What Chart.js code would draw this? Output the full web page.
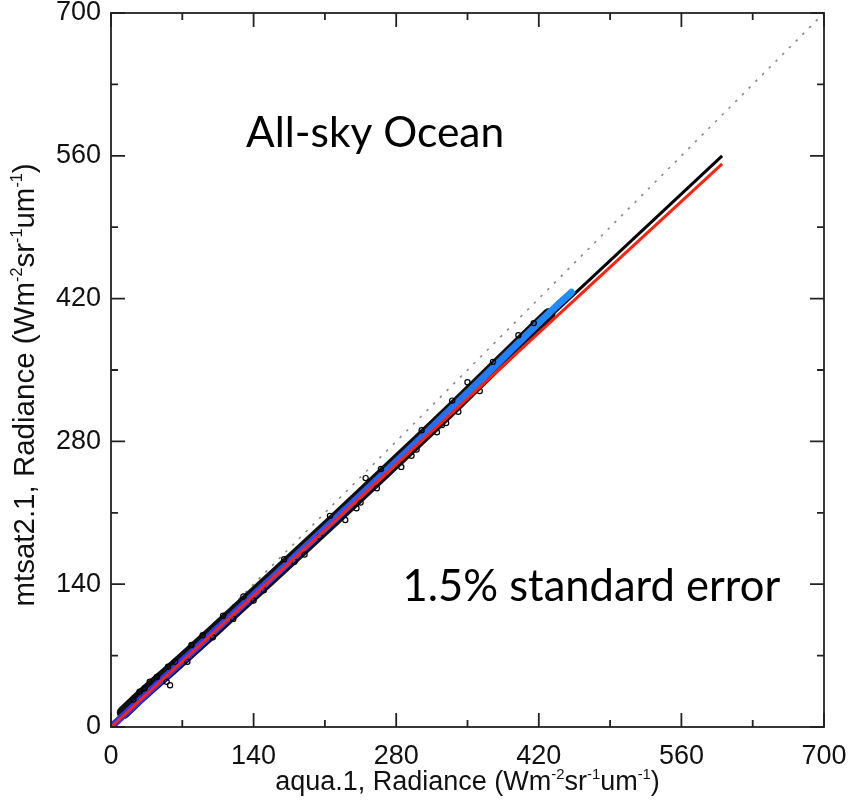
<!DOCTYPE html>
<html>
<head>
<meta charset="utf-8">
<script src="https://cdn.jsdelivr.net/npm/chart.js@4.4.0/dist/chart.umd.min.js"></script>
<style>
  html, body { margin: 0; padding: 0; background: #fff; }
</style>
</head>
<body>
<canvas id="chart" width="858" height="802"></canvas>
<script>
// axis ticks (labels on the major ones only)
const majorTicks = [0, 140, 280, 420, 560, 700];
const minorTicks = [70, 210, 350, 490, 630];

// centre of the blue band of matched pixels (aqua.1 vs mtsat2.1)
const bandAqua  = [3, 10, 20, 30, 40, 55, 70, 85, 100, 120, 140, 160, 180, 200, 220, 240, 260, 280, 300, 320, 340, 360, 380, 400, 420, 440, 452];
const bandMtsat = [2.8, 9.3, 18.5, 27.8, 37, 50.9, 64.8, 78.6, 92.5, 111, 129.5, 148, 166.6, 185.2, 203.8, 222.5, 241.3, 260.2, 279.2, 298.4, 317.8, 337.3, 356.9, 376.6, 396.2, 415.4, 426.2];

// the darker cloud of all matches around it
const cloudAqua  = [12, 25, 40, 60, 80, 100, 130, 160, 190, 220, 250, 280, 310, 340, 370, 400, 430];
const cloudMtsat = [14, 26.5, 40, 57.5, 75.5, 93.5, 121, 148.5, 176.2, 204, 232, 260.2, 288.5, 317.2, 346.5, 375.5, 404.5];

// scattered open circles at the edges and off the band
const dotsAqua  = [22, 28, 33, 38, 45, 56, 63, 79, 90, 110, 54.6, 58, 75, 100, 120, 150, 180, 205, 230, 241, 261, 285, 300, 320, 329, 341, 362, 250, 350, 400, 415,
                   130, 170, 215, 265, 305, 335, 375, 140, 190, 245, 295, 325];
const dotsMtsat = [27, 34.6, 38, 44.4, 49, 59, 64, 80.4, 90, 109, 44.4, 41, 64, 88, 106, 134, 162, 186.6, 203, 214.4, 234, 255, 272, 289, 298, 309, 329.4, 244, 338, 384, 396,
                   128, 164.5, 207, 253, 291, 320, 358, 124, 169, 220, 266, 296];

// regression fits and the 1:1 reference
const fitAqua = [0, 600];
const fitMtsat = [0, 560];
const fit2Aqua = [0, 600];
const fit2Mtsat = [0, 552];
const diagAqua = [0, 700];
const diagMtsat = [0, 700];

const notes = [
  { text: 'All-sky Ocean', x: 132.5, y: 568.6, size: 42.5 },
  { text: '1.5% standard error', x: 286.2, y: 123.4, size: 43.5 }
];

const xTitle = [['aqua.1, Radiance (Wm', 0], ['-2', 1], ['sr', 0], ['-1', 1], ['um', 0], ['-1', 1], [')', 0]];
const yTitle = [['mtsat2.1, Radiance (Wm', 0], ['-2', 1], ['sr', 0], ['-1', 1], ['um', 0], ['-1', 1], [')', 0]];

const pts = (xs, ys) => xs.map((v, i) => ({ x: v, y: ys[i] }));

const AXIS_FONT = '"Liberation Sans", Arial, sans-serif';
const NOTE_FONT = 'Lato, "Open Sans", sans-serif';

function blueShade(c) {
  const chart = c.chart;
  if (!chart.chartArea) return '#2a5cff';
  const xs = chart.scales.x;
  const g = chart.ctx.createLinearGradient(xs.getPixelForValue(0), 0, xs.getPixelForValue(452), 0);
  g.addColorStop(0, '#2233ff');
  g.addColorStop(0.5, '#2858ff');
  g.addColorStop(1, '#1e90ff');
  return g;
}

function drawRich(ctx, parts, cx, cy, size) {
  const sup = size * 0.55;
  let w = 0;
  parts.forEach(([t, s]) => {
    ctx.font = (s ? sup : size) + 'px ' + AXIS_FONT;
    w += ctx.measureText(t).width;
  });
  let x = cx - w / 2;
  ctx.textBaseline = 'alphabetic';
  ctx.textAlign = 'left';
  parts.forEach(([t, s]) => {
    ctx.font = (s ? sup : size) + 'px ' + AXIS_FONT;
    ctx.fillText(t, x, s ? cy - size * 0.42 : cy);
    x += ctx.measureText(t).width;
  });
}

const framePlugin = {
  id: 'frame',
  afterDraw(chart) {
    const { ctx, chartArea: a, scales } = chart;
    const xs = scales.x, ys = scales.y;
    ctx.save();
    ctx.strokeStyle = '#222';
    ctx.lineWidth = 1.8;
    ctx.strokeRect(a.left, a.top, a.right - a.left, a.bottom - a.top);

    // inward tick marks on all four sides
    const mark = (vals, len) => {
      ctx.beginPath();
      vals.forEach(v => {
        const px = xs.getPixelForValue(v);
        const py = ys.getPixelForValue(v);
        ctx.moveTo(px, a.bottom); ctx.lineTo(px, a.bottom - len);
        ctx.moveTo(px, a.top); ctx.lineTo(px, a.top + len);
        ctx.moveTo(a.left, py); ctx.lineTo(a.left + len, py);
        ctx.moveTo(a.right, py); ctx.lineTo(a.right - len, py);
      });
      ctx.stroke();
    };
    mark(majorTicks, 14);
    mark(minorTicks, 7);

    ctx.fillStyle = '#111';
    drawRich(ctx, xTitle, (a.left + a.right) / 2, 790, 27);
    ctx.save();
    ctx.translate(34, 385);
    ctx.rotate(-Math.PI / 2);
    drawRich(ctx, yTitle, 0, 0, 29.5);
    ctx.restore();

    ctx.fillStyle = '#000';
    ctx.textAlign = 'left';
    ctx.textBaseline = 'alphabetic';
    notes.forEach(n => {
      ctx.font = n.size + 'px ' + NOTE_FONT;
      ctx.fillText(n.text, xs.getPixelForValue(n.x), ys.getPixelForValue(n.y));
    });
    ctx.restore();
  }
};

const axisTicks = {
  font: { family: AXIS_FONT, size: 27 },
  color: '#111',
  maxRotation: 0,
  autoSkip: false
};

// lower order is painted last, i.e. on top
new Chart(document.getElementById('chart'), {
  type: 'scatter',
  data: {
    datasets: [
      {
        data: pts(diagAqua, diagMtsat), showLine: true, pointRadius: 0,
        borderColor: '#888', borderWidth: 1.6, borderDash: [2.5, 7], order: 6
      },
      {
        data: pts(cloudAqua, cloudMtsat), showLine: true, pointRadius: 0,
        borderColor: '#111', borderWidth: 13, borderCapStyle: 'round', order: 5
      },
      {
        data: pts(fitAqua, fitMtsat), showLine: true, pointRadius: 0,
        borderColor: '#000', borderWidth: 3, order: 4
      },
      {
        data: pts(bandAqua, bandMtsat), showLine: true,
        pointRadius: 3, pointBorderWidth: 0,
        pointBackgroundColor: blueShade, borderColor: blueShade,
        borderWidth: 7, borderCapStyle: 'round', order: 3
      },
      {
        data: pts(dotsAqua, dotsMtsat), pointRadius: 2.6, pointBorderWidth: 1.2,
        pointBorderColor: '#000', pointBackgroundColor: 'rgba(0,0,0,0)', order: 2
      },
      {
        data: pts(fit2Aqua, fit2Mtsat), showLine: true, pointRadius: 0,
        borderColor: '#ff2410', borderWidth: 3, order: 1
      }
    ]
  },
  options: {
    responsive: false,
    animation: false,
    layout: { padding: { top: 13, right: 34, left: 0, bottom: 0 } },
    plugins: { legend: { display: false }, tooltip: { enabled: false } },
    scales: {
      x: {
        type: 'linear', min: 0, max: 700,
        afterBuildTicks: s => { s.ticks = majorTicks.map(v => ({ value: v })); },
        afterFit: s => { s.height = 75; s.paddingLeft = 0; s.paddingRight = 0; },
        grid: { display: false, drawTicks: false }, border: { display: false },
        ticks: { ...axisTicks, padding: 13 }
      },
      y: {
        type: 'linear', min: 0, max: 700,
        afterBuildTicks: s => { s.ticks = majorTicks.map(v => ({ value: v })); },
        afterFit: s => { s.width = 111; s.paddingTop = 0; s.paddingBottom = 0; },
        grid: { display: false, drawTicks: false }, border: { display: false },
        ticks: { ...axisTicks, padding: 10 }
      }
    }
  },
  plugins: [framePlugin]
});
</script>
</body>
</html>
